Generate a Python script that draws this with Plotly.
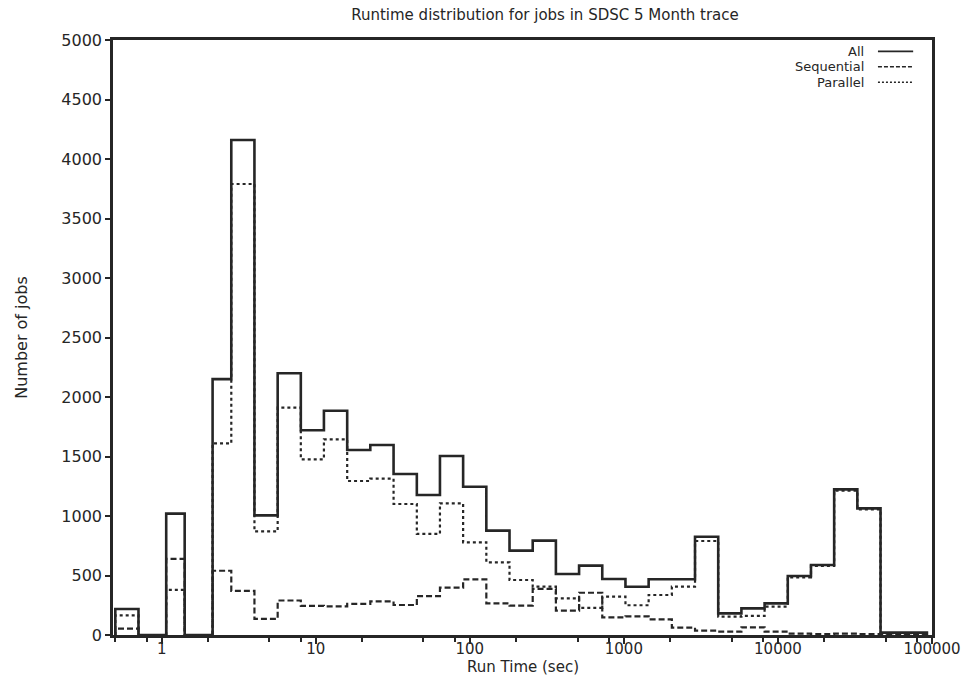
import plotly.graph_objects as go

# Histogram bins (lower edges, seconds) and the closing upper edge
bin_lo = [0.5, 0.707, 1.07, 1.41, 2.14, 2.83, 4, 5.66, 8, 11.3, 16, 22.6, 32, 45.3,
          64, 90.5, 128, 181, 256, 362, 512, 724, 1024, 1448, 2048, 2896, 4096,
          5793, 8192, 11585, 16384, 23170, 32768, 46341, 65536]
bin_end = 92682

# Job counts per bin
jobs_all = [218, 0, 1020, 0, 2150, 4160, 1005, 2200, 1720, 1885, 1555, 1597, 1353, 1176,
            1504, 1246, 877, 709, 793, 513, 583, 470, 406, 468, 468, 826, 182,
            224, 266, 496, 588, 1224, 1064, 20, 20]
jobs_seq = [53, 0, 640, 0, 540, 370, 135, 290, 244, 241, 261, 283, 252, 327,
            398, 467, 266, 247, 387, 205, 355, 148, 156, 132, 62, 36, 28,
            64, 28, 11, 8, 11, 8, 5, 4]
jobs_par = [165, 0, 380, 0, 1610, 3790, 870, 1910, 1476, 1644, 1294, 1314, 1101, 849,
            1106, 779, 611, 462, 406, 308, 228, 322, 250, 336, 406, 790, 154,
            160, 238, 485, 580, 1213, 1056, 15, 16]

x_ticks = [1, 10, 100, 1000, 10000, 100000]
x_minor = [0.5, 0.8, 2, 5, 8, 20, 50, 80, 200, 500, 800, 2000, 5000, 8000,
           20000, 50000, 80000]
y_ticks = list(range(0, 5001, 500))

INK = "#262626"
FONT = "DejaVu Sans, Liberation Sans, Arial, sans-serif"


def step_xy(values):
    xs = [bin_lo[0]] + bin_lo + [bin_end]
    ys = [0] + values + [0]
    return xs, ys


series = [
    ("All", jobs_all, dict(color=INK, width=2.6, dash="solid"), "solid"),
    ("Sequential", jobs_seq, dict(color=INK, width=2.2, dash="6px,3px"), "4px,2px"),
    ("Parallel", jobs_par, dict(color=INK, width=2.2, dash="3px,3px"), "2px,2px"),
]

fig = go.Figure()
for name, vals, style, _ in series:
    xs, ys = step_xy(vals)
    fig.add_trace(go.Scatter(x=xs, y=ys, mode="lines", name=name,
                             line=dict(shape="hv", **style), showlegend=False))

# Legend: label right-aligned, line sample to its right
legend_rows = [0.981, 0.955, 0.929]
for (name, _, style, key_dash), yp in zip(series, legend_rows):
    fig.add_annotation(x=0.919, y=yp, xref="paper", yref="paper", text=name,
                       showarrow=False, xanchor="right", yanchor="middle",
                       font=dict(family=FONT, size=13, color=INK))
    fig.add_shape(type="line", xref="paper", yref="paper",
                  x0=0.934, x1=0.977, y0=yp, y1=yp,
                  line=dict(color=INK, width=1.8 if key_dash == "solid" else 1.6,
                            dash=key_dash))

# x-axis title placed just under the tick labels
fig.add_annotation(x=0.5, y=-0.054, xref="paper", yref="paper",
                   text="Run Time (sec)", showarrow=False,
                   xanchor="center", yanchor="middle",
                   font=dict(family=FONT, size=15, color=INK))

fig.update_layout(
    width=967, height=687,
    margin=dict(l=113, r=35, t=40, b=52),
    paper_bgcolor="white", plot_bgcolor="white",
    font=dict(family=FONT, size=15, color=INK),
    title=dict(text="Runtime distribution for jobs in SDSC 5 Month trace",
               x=0.5636, xanchor="center", y=0.978, yanchor="middle",
               font=dict(family=FONT, size=15, color=INK)),
)

fig.update_xaxes(
    type="log", range=[-0.316, 5.0], automargin=False,
    tickvals=x_ticks, ticktext=[str(v) for v in x_ticks],
    ticks="outside", ticklen=6, tickwidth=2, tickcolor=INK,
    ticklabelstandoff=-8,
    minor=dict(tickvals=x_minor, ticks="outside", ticklen=4, tickwidth=2,
               tickcolor=INK, showgrid=False),
    showline=True, linewidth=2.5, linecolor=INK, mirror=True,
    showgrid=False, zeroline=False,
    tickfont=dict(family=FONT, size=15, color=INK),
)
fig.update_yaxes(
    range=[0, 5000], tickvals=y_ticks, automargin=False,
    ticks="outside", ticklen=5, tickwidth=2, tickcolor=INK,
    showline=True, linewidth=2.5, linecolor=INK, mirror=True,
    showgrid=False, zeroline=False,
    tickfont=dict(family=FONT, size=16, color=INK),
    title=dict(text="Number of jobs", standoff=30,
               font=dict(family=FONT, size=16, color=INK)),
)

fig.write_html("out.html")
